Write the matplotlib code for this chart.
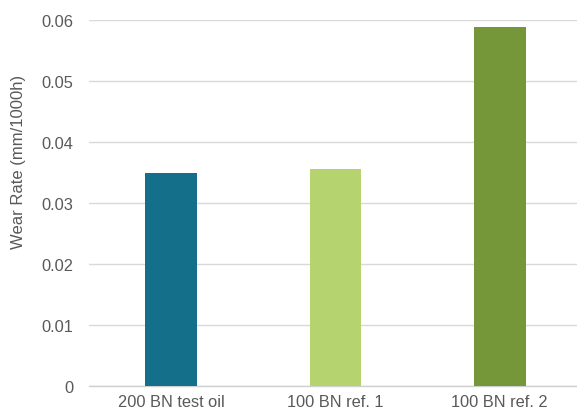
import matplotlib
matplotlib.use("Agg")
import matplotlib.pyplot as plt

# wear rate per oil
oils = ["200 BN test oil", "100 BN ref. 1", "100 BN ref. 2"]
wear_rate = [0.0350, 0.0355, 0.0589]
colors = ["#136f8a", "#b5d36e", "#76963a"]
yticks = [0, 0.01, 0.02, 0.03, 0.04, 0.05, 0.06]
ytick_labels = ["0", "0.01", "0.02", "0.03", "0.04", "0.05", "0.06"]

plt.rcParams["font.family"] = ["Liberation Sans", "DejaVu Sans"]
text_col = "#595959"

fig = plt.figure(figsize=(5.77, 4.14), dpi=100)
ax = fig.add_axes([0.1542, 0.0652, 0.8544, 0.884])

x = range(len(oils))
ax.bar(x, wear_rate, width=0.316, color=colors, zorder=3)

ax.set_xlim(-0.5, 2.5)
ax.set_ylim(0, 0.06)
ax.set_yticks(yticks)
ax.set_yticklabels(ytick_labels)
ax.set_xticks(list(x))
ax.set_xticklabels(oils)
ax.tick_params(axis="both", length=0, labelsize=11.8, colors=text_col)
ax.tick_params(axis="y", pad=11.5)
ax.tick_params(axis="x", pad=6)

ax.grid(axis="y", color="#d9d9d9", linewidth=1.0, zorder=0)
for side in ["top", "right", "left"]:
    ax.spines[side].set_visible(False)
ax.spines["bottom"].set_color("#d0d0d0")
ax.spines["bottom"].set_linewidth(1.0)

ax.set_ylabel("Wear Rate (mm/1000h)", fontsize=12, color=text_col)
ax.yaxis.set_label_coords(-0.128, 0.615)

fig.savefig("out.png", dpi=100)
